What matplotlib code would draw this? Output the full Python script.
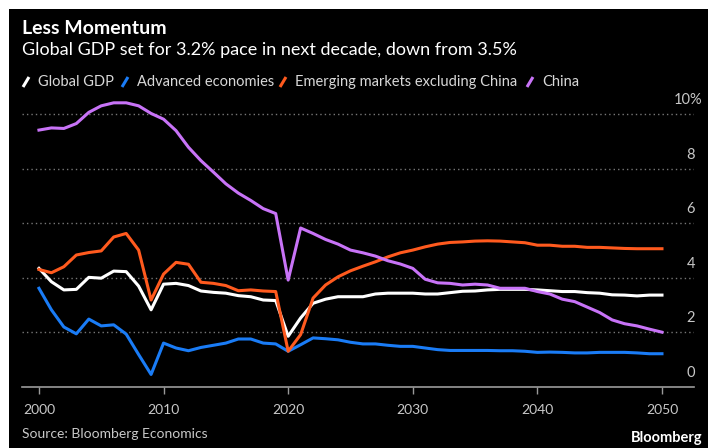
import numpy as np
import matplotlib
matplotlib.use("Agg")
import matplotlib.pyplot as plt
from matplotlib.lines import Line2D
from matplotlib.patches import Rectangle

plt.rcParams['font.family'] = ['Lato', 'DejaVu Sans']

years = np.arange(2000, 2051)

global_gdp = [4.35, 3.86, 3.56, 3.58, 4.02, 3.99, 4.25, 4.23, 3.70, 2.83,
              3.77, 3.80, 3.72, 3.52, 3.47, 3.44, 3.35, 3.31, 3.19, 3.17,
              1.86, 2.53, 3.07, 3.22, 3.31, 3.31, 3.31, 3.41, 3.44, 3.44,
              3.44, 3.41, 3.41, 3.46, 3.51, 3.52, 3.56, 3.58, 3.58, 3.58,
              3.56, 3.53, 3.50, 3.50, 3.46, 3.44, 3.38, 3.37, 3.34, 3.37, 3.37]

advanced = [3.62, 2.83, 2.20, 1.95, 2.49, 2.24, 2.28, 1.94, 1.19, 0.46,
            1.61, 1.43, 1.33, 1.45, 1.53, 1.61, 1.76, 1.76, 1.61, 1.58,
            1.31, 1.55, 1.80, 1.77, 1.73, 1.64, 1.58, 1.58, 1.53, 1.49,
            1.49, 1.43, 1.37, 1.34, 1.34, 1.34, 1.34, 1.33, 1.33, 1.31,
            1.27, 1.28, 1.27, 1.25, 1.25, 1.27, 1.27, 1.27, 1.25, 1.22, 1.22]

emerging = [4.31, 4.19, 4.41, 4.84, 4.93, 4.99, 5.50, 5.63, 5.02, 3.19,
            4.14, 4.57, 4.50, 3.84, 3.80, 3.72, 3.53, 3.56, 3.52, 3.50,
            1.31, 1.92, 3.26, 3.74, 4.04, 4.26, 4.43, 4.59, 4.77, 4.92,
            5.02, 5.14, 5.24, 5.30, 5.32, 5.35, 5.36, 5.35, 5.32, 5.29,
            5.20, 5.20, 5.16, 5.16, 5.12, 5.12, 5.10, 5.08, 5.07, 5.07, 5.07]

china = [9.42, 9.50, 9.48, 9.66, 10.07, 10.31, 10.42, 10.42, 10.31, 10.03,
         9.82, 9.40, 8.79, 8.30, 7.88, 7.45, 7.11, 6.84, 6.54, 6.36,
         3.92, 5.83, 5.63, 5.41, 5.24, 5.02, 4.92, 4.80, 4.63, 4.51,
         4.35, 3.95, 3.82, 3.80, 3.74, 3.77, 3.74, 3.62, 3.62, 3.62,
         3.50, 3.41, 3.22, 3.13, 2.93, 2.73, 2.46, 2.32, 2.24, 2.12, 2.01]

names = ['Global GDP', 'Advanced economies', 'Emerging markets excluding China', 'China']
colors = ['#ffffff', '#1a7cf6', '#ff5a1e', '#c873f7']
y_ticks = [0, 2, 4, 6, 8, 10]
y_labels = ['0', '2', '4', '6', '8', '10%']
x_ticks = [2000, 2010, 2020, 2030, 2040, 2050]

W, H = 708, 448
fig = plt.figure(figsize=(W / 100, H / 100), dpi=100, facecolor='white')
fig.add_artist(Rectangle((9 / W, 0), 1, 1 - 9 / H, transform=fig.transFigure,
                         facecolor='black', edgecolor='none', zorder=0))

ax = fig.add_axes([22 / W, 1 - 387 / H, 672 / W, 300 / H])
ax.set_facecolor('none')
ax.set_xlim(1998.64, 2052.57)
ax.set_ylim(0, 11)

for y in y_ticks[1:]:
    ax.axhline(y, color='#777777', lw=1, ls=(0, (1, 2.2)), zorder=1)

for series, c in zip([global_gdp, advanced, emerging, china], colors):
    ax.plot(years, series, color=c, lw=2.2, zorder=3, solid_joinstyle='round')

for s in ['top', 'left', 'right']:
    ax.spines[s].set_visible(False)
ax.spines['bottom'].set_color('#9a9a9a')
ax.spines['bottom'].set_linewidth(1.2)
ax.set_yticks([])
ax.set_xticks(x_ticks)
ax.set_xticklabels([str(x) for x in x_ticks])
ax.tick_params(axis='x', colors='#9a9a9a', length=5, width=1, labelcolor='#c8c8c8',
               labelsize=10, pad=7)

for y, lab in zip(y_ticks, y_labels):
    xr = 1.0015 if y < 10 else 1.012
    ax.text(xr, y + 0.52, lab, transform=ax.get_yaxis_transform(),
            ha='right', va='center', color='#c8c8c8', fontsize=10.5)

fig.text(22 / W, 1 - 28 / H, 'Less Momentum', color='white', fontsize=14,
         fontweight='bold', va='center', ha='left')
fig.text(22 / W, 1 - 50 / H, 'Global GDP set for 3.2% pace in next decade, down from 3.5%',
         color='white', fontsize=13, va='center', ha='left')

leg_x = [23, 122, 280, 527]
for name, c, x in zip(names, colors, leg_x):
    fig.add_artist(Line2D([x / W, (x + 6) / W], [1 - 87 / H, 1 - 77 / H],
                          transform=fig.transFigure, color=c, lw=2.2,
                          solid_capstyle='butt'))
    fig.text((x + 15) / W, 1 - 82 / H, name, color='#d8d8d8', fontsize=10.5,
             va='center', ha='left')

fig.text(22 / W, 1 - 434 / H, 'Source: Bloomberg Economics', color='#c8c8c8',
         fontsize=10, va='center', ha='left')
fig.text(703 / W, 1 - 438 / H, 'Bloomberg', color='white', fontsize=10.5,
         fontweight='bold', va='center', ha='right')

fig.savefig('out.png', dpi=100, facecolor='white')
